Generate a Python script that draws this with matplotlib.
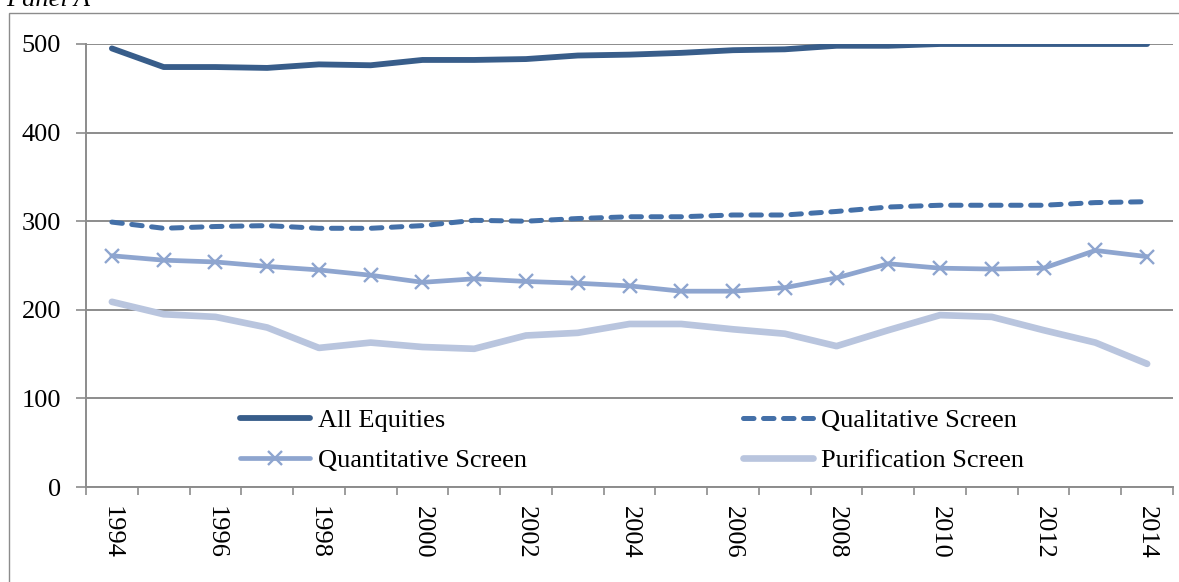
import matplotlib
matplotlib.use("Agg")
import matplotlib.pyplot as plt
from matplotlib.patches import Rectangle
from matplotlib.ticker import FixedLocator, NullFormatter

years = list(range(1994, 2015))
all_equities = [495, 474, 474, 473, 477, 476, 482, 482, 483, 487, 488, 490, 493, 494, 498, 498, 500, 500, 500, 500, 500]
qualitative = [299, 292, 294, 295, 292, 292, 295, 301, 300, 303, 305, 305, 307, 307, 311, 316, 318, 318, 318, 321, 322]
quantitative = [261, 256, 254, 249, 245, 239, 231, 235, 232, 230, 227, 221, 221, 225, 236, 252, 247, 246, 247, 267, 260]
purification = [209, 195, 192, 180, 157, 163, 158, 156, 171, 174, 184, 184, 178, 173, 159, 177, 194, 192, 177, 163, 139]
y_ticks = [0, 100, 200, 300, 400, 500]
panel_title = "Panel A"

plt.rcParams['font.family'] = ['Liberation Serif', 'DejaVu Serif']
FS = 19
W, H = 1179, 582
fig = plt.figure(figsize=(W / 100, H / 100), dpi=100)

# outer frame
fig.patches.append(Rectangle((9 / W, -0.1), 1.2, 1 - 13 / H + 0.1, transform=fig.transFigure,
                             fill=False, edgecolor='#8c8c8c', linewidth=1.0))
fig.text(90 / W, 1 - 6 / H, panel_title, ha='right', va='baseline', fontsize=FS, style='italic')

ax = fig.add_axes([86 / W, 1 - 487 / H, (1173 - 86) / W, (487 - 44) / H])
x = list(range(len(years)))

ax.plot(x, all_equities, color='#385D8A', lw=4.2, solid_capstyle='round', label='All Equities', zorder=5)
ax.plot(x, qualitative, color='#4470A8', lw=3.6, linestyle=(0, (2.1, 1.9)), dash_capstyle='round',
        label='Qualitative Screen', zorder=4)
ax.plot(x, quantitative, color='#8EA5CF', lw=3.4, marker='x', markersize=10, markeredgewidth=1.7,
        solid_capstyle='round', label='Quantitative Screen', zorder=3)
ax.plot(x, purification, color='#B9C5DE', lw=4.8, solid_capstyle='round', label='Purification Screen', zorder=2)

ax.set_xlim(-0.5, len(years) - 0.5)
ax.set_ylim(0, 500)
ax.set_yticks(y_ticks)
ax.set_yticklabels([str(v) for v in y_ticks], fontsize=FS)
ax.yaxis.grid(True, color='#8c8c8c', linewidth=1.4)
ax.set_axisbelow(True)

# category labels every 2 years, boundary ticks every year
ax.xaxis.set_major_locator(FixedLocator([i - 0.5 for i in range(len(years) + 1)]))
ax.xaxis.set_major_formatter(NullFormatter())
ax.xaxis.set_minor_locator(FixedLocator([i for i in x if years[i] % 2 == 0]))
ax.set_xticklabels([str(years[i]) for i in x if years[i] % 2 == 0], minor=True,
                   rotation=-90, fontsize=FS)
ax.tick_params(axis='x', which='minor', length=0, pad=14)
ax.tick_params(axis='x', which='major', length=6, width=1.2, color='#8c8c8c', direction='out')
ax.tick_params(axis='y', length=7, width=1.2, color='#8c8c8c', pad=11)

for s in ['top', 'right']:
    ax.spines[s].set_visible(False)
for s in ['left', 'bottom']:
    ax.spines[s].set_color('#8c8c8c')
    ax.spines[s].set_linewidth(1.4)

handles, labels = ax.get_legend_handles_labels()
order = [0, 2, 1, 3]
leg = ax.legend([handles[i] for i in order], [labels[i] for i in order], loc='upper left',
                bbox_to_anchor=(240 / W, 1 - 409 / H), bbox_transform=fig.transFigure,
                ncol=2, frameon=False, fontsize=FS, handlelength=2.65, handletextpad=0.3,
                columnspacing=8.2, labelspacing=0.6, borderpad=0, borderaxespad=0)

fig.savefig('out.png', dpi=100)
